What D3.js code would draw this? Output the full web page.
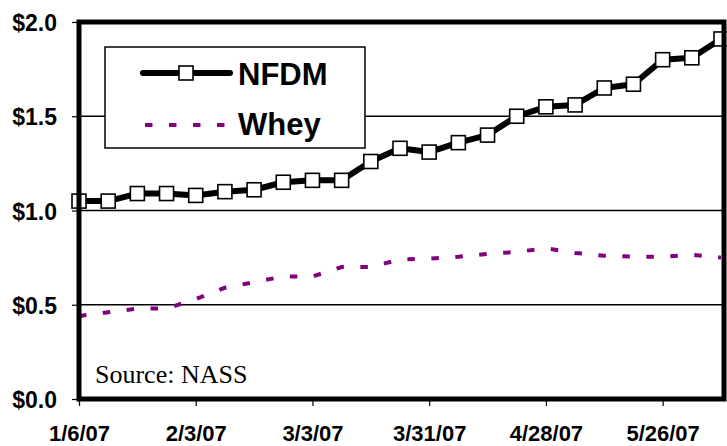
<!DOCTYPE html>
<html>
<head>
<meta charset="utf-8">
<script src="https://cdn.jsdelivr.net/npm/d3@7"></script>
<style>
  body { margin: 0; background: #fff; }
  text { font-family: Arial, "Liberation Sans", sans-serif; font-weight: bold; fill: #000; }
</style>
</head>
<body>
<div id="chart"></div>
<script>
var svgWidth = 727;
var svgHeight = 446;

var margin = { top: 22, right: 3, bottom: 47, left: 79 };

// weekly prices, $/lb
var weeks = ["2007-01-06", "2007-01-13", "2007-01-20", "2007-01-27", "2007-02-03",
  "2007-02-10", "2007-02-17", "2007-02-24", "2007-03-03", "2007-03-10",
  "2007-03-17", "2007-03-24", "2007-03-31", "2007-04-07", "2007-04-14",
  "2007-04-21", "2007-04-28", "2007-05-05", "2007-05-12", "2007-05-19",
  "2007-05-26", "2007-06-02", "2007-06-09"];
var nfdm = [1.05, 1.05, 1.09, 1.09, 1.08, 1.10, 1.11, 1.15, 1.16, 1.16,
  1.26, 1.33, 1.31, 1.36, 1.40, 1.50, 1.55, 1.56, 1.65, 1.67,
  1.80, 1.81, 1.91];
var whey = [0.44, 0.46, 0.48, 0.48, 0.53, 0.59, 0.62, 0.65, 0.65, 0.70,
  0.70, 0.74, 0.745, 0.755, 0.77, 0.78, 0.80, 0.775, 0.76, 0.755,
  0.755, 0.765, 0.75];
var yTicks = [0, 0.5, 1.0, 1.5, 2.0];
var xTickWeeks = ["2007-01-06", "2007-02-03", "2007-03-03", "2007-03-31", "2007-04-28", "2007-05-26"];

var parseDate = d3.timeParse("%Y-%m-%d");
var dates = weeks.map(parseDate);

var width = svgWidth - margin.left - margin.right;
var height = svgHeight - margin.top - margin.bottom;

var svg = d3.select("#chart")
  .append("svg")
  .attr("width", svgWidth)
  .attr("height", svgHeight);

var chartGroup = svg.append("g")
  .attr("transform", `translate(${margin.left}, ${margin.top})`);

// last week sits just inside the right frame
var xScale = d3.scaleTime()
  .domain([dates[0], dates[dates.length - 1]])
  .range([0, width - 3]);

var yScale = d3.scaleLinear()
  .domain([0, 2])
  .range([height, 0]);

// gridlines
chartGroup.selectAll(".grid")
  .data(yTicks.filter(d => d > 0 && d < 2))
  .enter()
  .append("line")
  .attr("x1", 0)
  .attr("x2", width)
  .attr("y1", d => yScale(d))
  .attr("y2", d => yScale(d))
  .attr("stroke", "#000")
  .attr("stroke-width", 1.5);

// axes (ticks only, labels restyled)
var leftAxis = d3.axisLeft(yScale)
  .tickValues(yTicks)
  .tickSize(7)
  .tickFormat(d => "$" + d3.format(".1f")(d));

var yAxisG = chartGroup.append("g").call(leftAxis);
yAxisG.select(".domain").remove();
yAxisG.selectAll("line").attr("stroke", "#000").attr("stroke-width", 1.2);
yAxisG.selectAll("text")
  .attr("x", -22)
  .attr("dy", "0.37em")
  .style("font-size", "23px")
  .style("font-family", "Arial, 'Liberation Sans', sans-serif")
  .style("font-weight", "bold");

var bottomAxis = d3.axisBottom(xScale)
  .tickValues(xTickWeeks.map(parseDate))
  .tickSize(7)
  .tickFormat(d3.timeFormat("%-m/%-d/%y"));

var xAxisG = chartGroup.append("g")
  .attr("transform", `translate(0, ${height})`)
  .call(bottomAxis);
xAxisG.select(".domain").remove();
xAxisG.selectAll("line").attr("stroke", "#000").attr("stroke-width", 1.2);
xAxisG.selectAll("text")
  .attr("y", 0)
  .attr("dy", 0)
  .attr("transform", "translate(0, 42)")
  .style("font-size", "22px")
  .style("font-family", "Arial, 'Liberation Sans', sans-serif")
  .style("font-weight", "bold");

// whey, dashed purple
var wheyLine = d3.line()
  .x((d, i) => xScale(dates[i]))
  .y(d => yScale(d));

chartGroup.append("path")
  .datum(whey)
  .attr("d", wheyLine)
  .attr("fill", "none")
  .attr("stroke", "#800080")
  .attr("stroke-width", 4)
  .attr("stroke-dasharray", "7.5,16.5");

// NFDM, thick black with square markers
var nfdmLine = d3.line()
  .x((d, i) => xScale(dates[i]))
  .y(d => yScale(d));

chartGroup.append("path")
  .datum(nfdm)
  .attr("d", nfdmLine)
  .attr("fill", "none")
  .attr("stroke", "#000")
  .attr("stroke-width", 6)
  .attr("stroke-linejoin", "round");

var mk = 14;
chartGroup.selectAll(".marker")
  .data(nfdm)
  .enter()
  .append("rect")
  .attr("x", (d, i) => xScale(dates[i]) - mk / 2)
  .attr("y", d => yScale(d) - mk / 2)
  .attr("width", mk)
  .attr("height", mk)
  .attr("fill", "#fff")
  .attr("stroke", "#000")
  .attr("stroke-width", 1.6);

// frame
chartGroup.append("rect")
  .attr("x", 0)
  .attr("y", 0)
  .attr("width", width)
  .attr("height", height)
  .attr("fill", "none")
  .attr("stroke", "#000")
  .attr("stroke-width", 5);

// legend
var legend = svg.append("g").attr("transform", "translate(105, 47)");
legend.append("rect")
  .attr("width", 260)
  .attr("height", 101)
  .attr("fill", "#fff")
  .attr("stroke", "#000")
  .attr("stroke-width", 1.5);
legend.append("line")
  .attr("x1", 38).attr("x2", 125)
  .attr("y1", 26).attr("y2", 26)
  .attr("stroke", "#000")
  .attr("stroke-width", 6)
  .attr("stroke-linecap", "round");
legend.append("rect")
  .attr("x", 81 - mk / 2).attr("y", 26 - mk / 2)
  .attr("width", mk).attr("height", mk)
  .attr("fill", "#fff")
  .attr("stroke", "#000")
  .attr("stroke-width", 1.6);
legend.append("line")
  .attr("x1", 40).attr("x2", 125)
  .attr("y1", 78).attr("y2", 78)
  .attr("stroke", "#800080")
  .attr("stroke-width", 4)
  .attr("stroke-dasharray", "7.5,16.5");
legend.append("text")
  .attr("x", 133).attr("y", 38)
  .style("font-size", "31px")
  .text("NFDM");
legend.append("text")
  .attr("x", 133).attr("y", 88)
  .style("font-size", "31px")
  .text("Whey");

// source note
svg.append("text")
  .attr("x", 95)
  .attr("y", 383)
  .style("font-family", "'Liberation Serif', 'Times New Roman', serif")
  .style("font-weight", "normal")
  .style("font-size", "26px")
  .text("Source: NASS");
</script>
</body>
</html>
